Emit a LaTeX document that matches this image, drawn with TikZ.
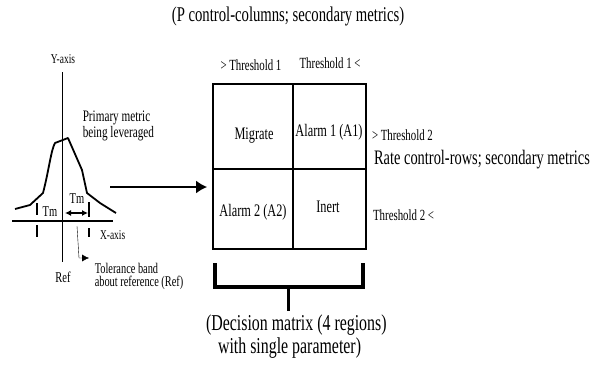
\documentclass[tikz,border=0pt]{standalone}
\usepackage{fontspec}
\setmainfont{Liberation Serif}[FakeStretch=0.7]
\usetikzlibrary{positioning,arrows.meta}
\tikzset{
	small/.style={font=\fontsize{15.5}{13}\selectfont},
	label/.style={font=\fontsize{13.5}{13}\selectfont},
	cell/.style={font=\fontsize{17.6}{15}\selectfont},
	big/.style={font=\fontsize{22.7}{21}\selectfont}
}
\begin{document}
\begin{tikzpicture}[x=1pt,y=-1pt,line width=1.5pt]
	\useasboundingbox (0,0) rectangle (602,372);
	%%Koordinatensystem
	\draw[line width=1.8pt] (12,221) -- (113,221);
	\draw[line width=1.2pt] (62.5,72) -- (62.5,262);
	\node[label] (yaxis) at (63,59) {Y-axis};
	\node[label,anchor=west] (xaxis) at (96,235) {X-axis};
	\node[font=\fontsize{15}{15}\selectfont] (ref) at (63,277) {Ref};
	%%Kurve
	\draw[line width=1.8pt,line join=round] (15,209) -- (30,205) -- (43,193) .. controls (49,170) and (51,150) .. (55,143)
		-- (68,138) -- (82,170) -- (87,193) -- (100,203) -- (116,213);
	\node[font=\fontsize{16}{12.5}\selectfont,anchor=west,align=left,inner sep=0pt] (primary) at (82,126) {Primary metric\\being leveraged};
	%%Toleranzband
	\foreach \x/\a/\b/\c/\d in {37/203/215/225/237, 89/202/217/228/237}
	{
		\draw[line width=1.2pt] (\x,\a) -- (\x,\b);
		\draw[line width=1.2pt] (\x,\c) -- (\x,\d);
	}
	\node[font=\fontsize{15}{15}\selectfont] (tmleft) at (50,212) {Tm};
	\node[font=\fontsize{15}{15}\selectfont] (tmright) at (77,199) {Tm};
	\coordinate (tma) at (65,213);
	\coordinate (tmb) at (88,213);
	\draw[line width=1.2pt,{Latex[length=6pt,width=6pt]}-{Latex[length=6pt,width=6pt]}] (tma) -- (tmb);
	\node[font=\fontsize{14.8}{13.5}\selectfont,anchor=north west,align=left,inner sep=0pt] (tol) at (94,262) {Tolerance band\\about reference (Ref)};
	\coordinate (tolfoot) at (77,226);
	\draw[line width=0.4pt,-{Latex[length=7pt,width=7pt]}] (tolfoot) -- (79,258) -- (89,258);
	%%Pfeil
	\coordinate (curveout) at (110,187);
	%%Matrix
	\node[draw,line width=1.8pt,minimum width=153pt,minimum height=165pt,inner sep=0pt] (mat) at (289.5,166.5) {};
	\draw[line width=1.8pt,>={Latex[length=11pt,width=13pt]},->] (curveout) -- ([xshift=-5pt]curveout -| mat.west);
	\draw[line width=1.8pt] (293,84) -- (293,249);
	\draw[line width=1.8pt] (213,169) -- (366,169);
	\node[cell] (migrate) at (254,136) {Migrate};
	\node[cell] (alarmone) at (329,132) {Alarm 1 (A1)};
	\node[cell] (alarmtwo) at (253,212) {Alarm 2 (A2)};
	\node[cell] (inert) at (328,207) {Inert};
	%%Schwellen
	\node[small] (thronein) at (251,65) {>\,Threshold 1};
	\node[small] (throneout) at (330,63) {Threshold 1\,<};
	\node[small,anchor=west] (thrtwoin) at (368,135) {>\,Threshold 2};
	\node[small,anchor=west] (thrtwoout) at (369,215) {Threshold 2\,<};
	\node[font=\fontsize{20.6}{18}\selectfont,anchor=west] (rate) at (370,160) {Rate control-rows; secondary metrics};
	\node[font=\fontsize{21}{18}\selectfont] (title) at (288,16) {(P control-columns; secondary metrics)};
	%%Klammer
	\draw[line width=3.5pt,line join=miter] (215,263) -- (215,287) -- (363,287) -- (363,263);
	\coordinate (brace) at (288,287);
	\node[big,anchor=west] (decone) at (202,325) {(Decision matrix (4 regions)};
	\node[big,anchor=west] (dectwo) at (214,348) {with single parameter)};
	\draw[line width=3pt] (brace) -- (brace |- decone.north);
\end{tikzpicture}
\end{document}
